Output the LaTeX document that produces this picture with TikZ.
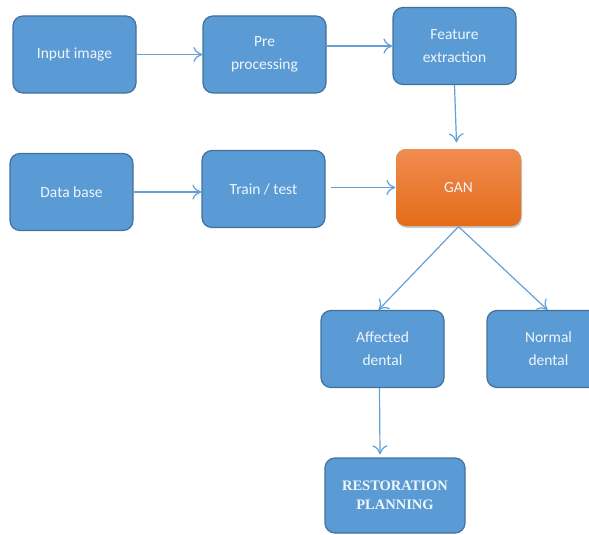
\documentclass[tikz,border=0pt]{standalone}
\usepackage{fontspec}
\setmainfont{Carlito}
\newfontfamily\timesfont{Liberation Serif}
\usepackage{tikz}
\usetikzlibrary{calc,shadows,arrows.meta}

\definecolor{boxblue}{RGB}{91,155,213}
\definecolor{boxline}{RGB}{65,113,156}
\definecolor{arrowblue}{RGB}{100,160,215}
\definecolor{gantop}{RGB}{240,140,80}
\definecolor{ganbot}{RGB}{228,108,25}
\definecolor{labelwhite}{RGB}{240,245,250}

\tikzset{
  stage/.style={draw=boxline, line width=1.2pt, fill=boxblue, rounded corners=10pt,
    minimum width=123pt, minimum height=77pt, text=labelwhite, align=center,
    font=\fontsize{15.5}{23}\selectfont, inner sep=2pt},
  flow/.style={draw=arrowblue, line width=1.2pt, -{To[length=9pt, width=15pt]}}
}

\begin{document}
\begin{tikzpicture}[x=1pt, y=-1pt]
      \useasboundingbox (0, 0) rectangle (589, 535);
      \node[stage] (input) at (74.5, 54.5) {Input image};
      \node[stage] (pre) at (264.5, 54.5) {Pre\\processing};
      \node[stage] (feat) at (454.5, 46) {Feature\\extraction};
      \node[stage] (db) at (71.5, 192) {Data base};
      \node[stage] (train) at (263.5, 189) {Train / test};
      \node[stage, draw=none, top color=gantop, bottom color=ganbot,
            drop shadow={shadow xshift=1pt, shadow yshift=-2pt, fill=black!40},
            minimum width=125pt] (gan) at (458.5, 187.5) {GAN};
      \node[stage] (aff) at (382.5, 349) {Affected\\dental};
      \node[stage] (norm) at (548.5, 349) {Normal\\dental};
      \node[stage, minimum width=140pt, minimum height=75pt,
            font=\timesfont\bfseries\fontsize{14.5}{19}\selectfont] (rest) at (395, 495.5)
            {RESTORATION\\PLANNING};
      \draw[flow] (input) -- (pre);
      \draw[flow] (pre.east |- feat.west) -- (feat.west);
      \draw[flow] (feat.south) -- ($(gan.north)+(-2, -6)$);
      \draw[flow] (db.east) -- (db.east -| train.west);
      \draw[flow, shorten <=5pt] (train.east |- gan.west) -- (gan.west);
      \draw[flow] (gan.south) -- ($(aff.north)+(-4, 0)$);
      \draw[flow] (gan.south) -- ($(norm.north)+(-1, 0)$);
      \draw[flow] ($(aff.south)+(-3, 0)$) -- ($(rest.north)+(-15, -3)$);
    \end{tikzpicture}
\end{document}
